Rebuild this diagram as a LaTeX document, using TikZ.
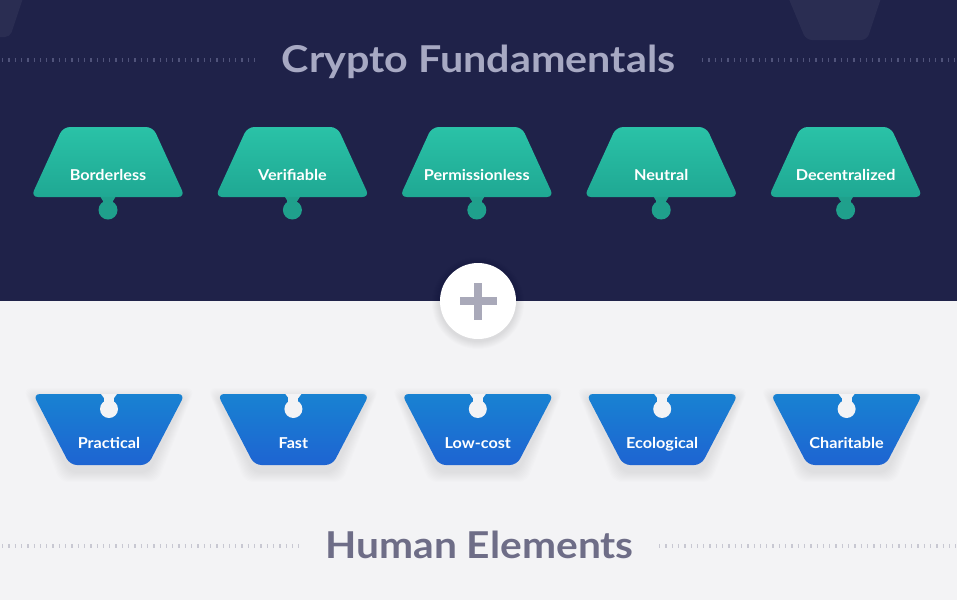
\documentclass[tikz,border=0pt]{standalone}
\usepackage{fontspec}
\setmainfont{Lato}
\definecolor{darkbg}{HTML}{1F2249}
\definecolor{lightbg}{HTML}{F3F3F5}
\definecolor{gtop}{HTML}{2AC2A7}
\definecolor{gbot}{HTML}{1FA893}
\definecolor{gknob}{HTML}{1FA08C}
\definecolor{btop}{HTML}{1882D2}
\definecolor{bbot}{HTML}{1E64D2}
\definecolor{toptitle}{HTML}{A7A9C3}
\definecolor{bottitle}{HTML}{6E6D87}
\definecolor{plusgray}{HTML}{A9A9B9}
\definecolor{dotdark}{HTML}{50537A}
\definecolor{dotlight}{HTML}{C8C8D2}
\tikzset{
  titletext/.style={anchor=base,font=\bfseries\fontsize{37}{40}\selectfont},
  labeltext/.style={anchor=base,text=white,font=\bfseries\fontsize{15}{18}\selectfont},
  dotline/.style={line width=3.5pt,dash pattern=on 1.3pt off 5pt},
}
\begin{document}
\begin{tikzpicture}[x=1pt,y=-1pt]
\useasboundingbox (0,0) rectangle (957,600);
% backgrounds
\fill[darkbg] (0,0) rectangle (957,301);
\fill[lightbg] (0,301) rectangle (957,600);
% faint shapes at the top
\fill[white,opacity=0.05,rounded corners=5] (-6,-8) -- (25,-8) -- (10,37) -- (-6,37) -- cycle;
\fill[white,opacity=0.05,rounded corners=6] (786,-8) -- (883,-8) -- (867,40) -- (806,40) -- cycle;
% top title
\draw[dotline,dotdark] (2,60) -- (256,60);
\draw[dotline,dotdark] (702,60) -- (957,60);
\node[titletext,text=toptitle] (toptitle) at (478.5,72.5) {\scalebox{1.115}[1]{Crypto Fundamentals}};
% green pieces
\foreach \i/\t in {0/Borderless,1/Verifiable,2/Permissionless,3/Neutral,4/Decentralized}{
  \pgfmathsetmacro\cx{108+184.4*\i}
  \fill[gknob] (\cx-5,195) rectangle (\cx+5,204);
  \fill[gknob] (\cx-8,196) -- (\cx+8,196) -- (\cx+5,201) -- (\cx-5,201) -- cycle;
  \fill[gknob] (\cx,210) circle[radius=9.5];
  \shade[top color=gtop,bottom color=gbot,rounded corners=7]
    (\cx-45,127) -- (\cx+45,127) -- (\cx+77,197) -- (\cx-77,197) -- cycle;
  \node[labeltext] (g\i) at (\cx,180.5) {\scalebox{1.08}[1]{\t}};
}
% plus circle
\foreach \k in {1,...,8}{
  \fill[black,opacity=0.01] (478,303) circle[radius=38+\k];
}
\node[circle,fill=white,minimum size=76pt,inner sep=0pt] (plus) at (478,301) {};
\fill[plusgray] (plus.center) ++(-18.5,-4) rectangle ++(37,8);
\fill[plusgray] (plus.center) ++(-4,-18.5) rectangle ++(8,37);
% blue pieces
\foreach \i/\t in {0/Practical,1/Fast,2/Low-cost,3/Ecological,4/Charitable}{
  \pgfmathsetmacro\cx{109+184.4*\i}
  \foreach \k in {1,...,10}{
    \fill[black,opacity=0.008,rounded corners=8]
      (\cx-76-\k,398-\k) -- (\cx+76+\k,398-\k) -- (\cx+39+\k,472+\k) -- (\cx-39-\k,472+\k) -- cycle;
  }
  \shade[top color=btop,bottom color=bbot,rounded corners=7]
    (\cx-76,394) -- (\cx+76,394) -- (\cx+39,465) -- (\cx-39,465) -- cycle;
  \fill[lightbg] (\cx-5,394) rectangle (\cx+5,404);
  \fill[lightbg] (\cx-8,394) -- (\cx+8,394) -- (\cx+5,398) -- (\cx-5,398) -- cycle;
  \fill[lightbg] (\cx,409) circle[radius=9];
  \node[labeltext] (b\i) at (\cx,448) {\scalebox{1.08}[1]{\t}};
}
% bottom title
\draw[dotline,dotlight] (2,546) -- (299,546);
\draw[dotline,dotlight] (659,546) -- (957,546);
\node[titletext,text=bottitle] (bottitle) at (479.5,558) {\scalebox{1.1}[1]{Human Elements}};
\end{tikzpicture}
\end{document}
